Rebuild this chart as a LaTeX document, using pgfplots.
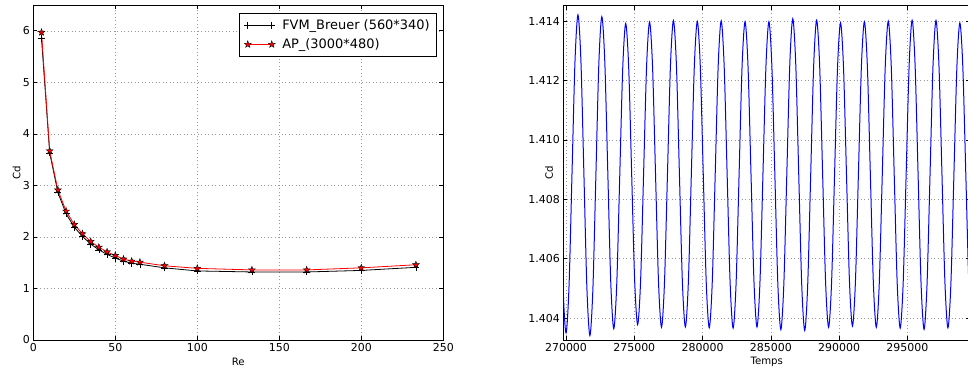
\documentclass[border=0pt]{standalone}
\usepackage{fontspec}
\setmainfont{DejaVu Sans}
\usepackage{pgfplots}
\pgfplotsset{compat=1.18}

\pgfdeclareplotmark{fstar}{%
  \pgfpathmoveto{\pgfpointpolar{90}{\pgfplotmarksize}}%
  \pgfpathlineto{\pgfpointpolar{126}{0.4\pgfplotmarksize}}%
  \pgfpathlineto{\pgfpointpolar{162}{\pgfplotmarksize}}%
  \pgfpathlineto{\pgfpointpolar{198}{0.4\pgfplotmarksize}}%
  \pgfpathlineto{\pgfpointpolar{234}{\pgfplotmarksize}}%
  \pgfpathlineto{\pgfpointpolar{270}{0.4\pgfplotmarksize}}%
  \pgfpathlineto{\pgfpointpolar{306}{\pgfplotmarksize}}%
  \pgfpathlineto{\pgfpointpolar{342}{0.4\pgfplotmarksize}}%
  \pgfpathlineto{\pgfpointpolar{18}{\pgfplotmarksize}}%
  \pgfpathlineto{\pgfpointpolar{54}{0.4\pgfplotmarksize}}%
  \pgfpathclose\pgfusepathqfillstroke}

\pgfplotsset{mystyle/.style={
  scale only axis,
  axis line style={black, line width=0.8bp},
  tick align=inside, tick pos=both, major tick length=4bp,
  every tick/.style={black, line width=0.6bp},
  grid=major,
  grid style={gray!80, line width=0.5bp, dash pattern=on 1bp off 2.5bp},
  tick label style={font=\fontsize{11}{13}\selectfont},
  label style={font=\fontsize{10.2}{12}\selectfont},
  /pgf/number format/assume math mode=true,
}}

\pgfplotstableread{
x y
5 5.85
10 3.63
15 2.86
20 2.45
25 2.19
30 2.01
35 1.86
40 1.75
45 1.66
50 1.59
55 1.53
60 1.49
65 1.47
80 1.40
100 1.34
133.3 1.32
166.7 1.32
200 1.35
233.3 1.41
}\fvm

\pgfplotstableread{
x y
5 5.97
10 3.67
15 2.91
20 2.50
25 2.24
30 2.06
35 1.91
40 1.80
45 1.71
50 1.64
55 1.57
60 1.53
65 1.51
80 1.44
100 1.39
133.3 1.36
166.7 1.36
200 1.40
233.3 1.46
}\ap

\pgfplotstableread{
t cd
269563 1.40880
269781.5 1.40505
270000 1.40350
270218.5 1.40507
270437 1.40886
270655.5 1.41264
270874 1.41421
271092.5 1.41263
271311 1.40881
271529.5 1.40499
271748 1.40341
271966.5 1.40498
272185 1.40878
272403.5 1.41258
272622 1.41415
272840.5 1.41261
273059 1.40890
273277.5 1.40518
273496 1.40364
273714.5 1.40515
273933 1.40878
274151.5 1.41241
274370 1.41392
274588.5 1.41244
274807 1.40885
275025.5 1.40527
275244 1.40378
275462.5 1.40527
275681 1.40888
275899.5 1.41248
276118 1.41397
276336.5 1.41246
276555 1.40883
276773.5 1.40520
276992 1.40369
277210.5 1.40520
277429 1.40886
277647.5 1.41251
277866 1.41402
278084.5 1.41251
278303 1.40886
278521.5 1.40521
278740 1.40370
278958.5 1.40521
279177 1.40885
279395.5 1.41248
279614 1.41399
279832.5 1.41248
280051 1.40883
280269.5 1.40518
280488 1.40367
280706.5 1.40518
280925 1.40884
281143.5 1.41250
281362 1.41401
281580.5 1.41249
281799 1.40884
282017.5 1.40518
282236 1.40366
282454.5 1.40517
282673 1.40882
282891.5 1.41247
283110 1.41398
283328.5 1.41247
283547 1.40884
283765.5 1.40521
283984 1.40370
284202.5 1.40521
284421 1.40884
284639.5 1.41247
284858 1.41398
285076.5 1.41246
285295 1.40880
285513.5 1.40513
285732 1.40361
285950.5 1.40514
286169 1.40885
286387.5 1.41255
286606 1.41408
286824.5 1.41254
287043 1.40883
287261.5 1.40512
287480 1.40358
287698.5 1.40511
287917 1.40881
288135.5 1.41250
288354 1.41403
288572.5 1.41252
288791 1.40886
289009.5 1.40520
289228 1.40369
289446.5 1.40519
289665 1.40882
289883.5 1.41244
290102 1.41394
290320.5 1.41245
290539 1.40884
290757.5 1.40523
290976 1.40373
291194.5 1.40523
291413 1.40886
291631.5 1.41248
291850 1.41398
292068.5 1.41247
292287 1.40884
292505.5 1.40520
292724 1.40369
292942.5 1.40520
293161 1.40885
293379.5 1.41249
293598 1.41400
293816.5 1.41249
294035 1.40883
294253.5 1.40517
294472 1.40366
294690.5 1.40518
294909 1.40885
295127.5 1.41251
295346 1.41403
295564.5 1.41251
295783 1.40883
296001.5 1.40515
296220 1.40362
296438.5 1.40514
296657 1.40882
296875.5 1.41250
297094 1.41402
297312.5 1.41250
297531 1.40885
297749.5 1.40519
297968 1.40367
298186.5 1.40517
298405 1.40881
298623.5 1.41244
298842 1.41394
299060.5 1.41244
299279 1.40882
299497.5 1.40520
299716 1.40370
}\osc

\begin{document}
\begin{tikzpicture}
\useasboundingbox (0,0) rectangle (968bp,367bp);

\begin{axis}[mystyle,
  at={(33.3bp,27bp)}, anchor=south west,
  width=410bp, height=335bp,
  xmin=0, xmax=250, ymin=0, ymax=6.5,
  xtick={0,50,...,250}, ytick={0,1,2,3,4,5,6},
  xlabel={Re}, ylabel={Cd},
  xlabel style={at={(axis description cs:0.5,-0.065)}, anchor=center},
  ylabel style={at={(axis description cs:-0.0405,0.5)}, anchor=center},
  legend image code/.code={\draw[#1] plot coordinates {(0bp,0bp) (24bp,0bp)};},
  legend cell align=left,
  legend style={at={(axis description cs:0.985,0.976)}, anchor=north east,
    draw=black, line width=0.8bp, fill=white,
    font=\fontsize{13}{15}\selectfont,
    inner xsep=5bp, inner ysep=4bp, row sep=4bp,
    /tikz/every odd column/.append style={column sep=5bp}},
]
\addplot[black, line width=0.8bp, mark=+, mark size=3.5bp,
  mark options={line width=0.6bp}] table[x=x,y=y] {\fvm};
\addlegendentry{FVM\_Breuer (560*340)}
\addplot[red, line width=0.8bp, mark=fstar, mark size=3.6bp,
  mark options={fill=red, draw=black, line width=0.4bp}] table[x=x,y=y] {\ap};
\addlegendentry{AP\_(3000*480)}
\end{axis}

\begin{axis}[mystyle,
  at={(563.3bp,27bp)}, anchor=south west,
  width=406.9bp, height=334.3bp,
  xmin=269800, xmax=299600, ymin=1.40326, ymax=1.41452,
  xtick={270000,275000,280000,285000,290000,295000},
  ytick={1.404,1.406,1.408,1.410,1.412,1.414},
  scaled x ticks=false, scaled y ticks=false,
  xticklabel style={/pgf/number format/.cd, fixed, 1000 sep={}},
  yticklabel style={/pgf/number format/.cd, fixed, fixed zerofill, precision=3},
  xlabel={Temps}, ylabel={Cd},
  xlabel style={at={(axis description cs:0.5,-0.065)}, anchor=center},
  ylabel style={at={(axis description cs:-0.035,0.5)}, anchor=center},
]
\addplot[blue, line width=1bp, smooth, no marks] table[x=t,y=cd] {\osc};
\end{axis}
\end{tikzpicture}
\end{document}
